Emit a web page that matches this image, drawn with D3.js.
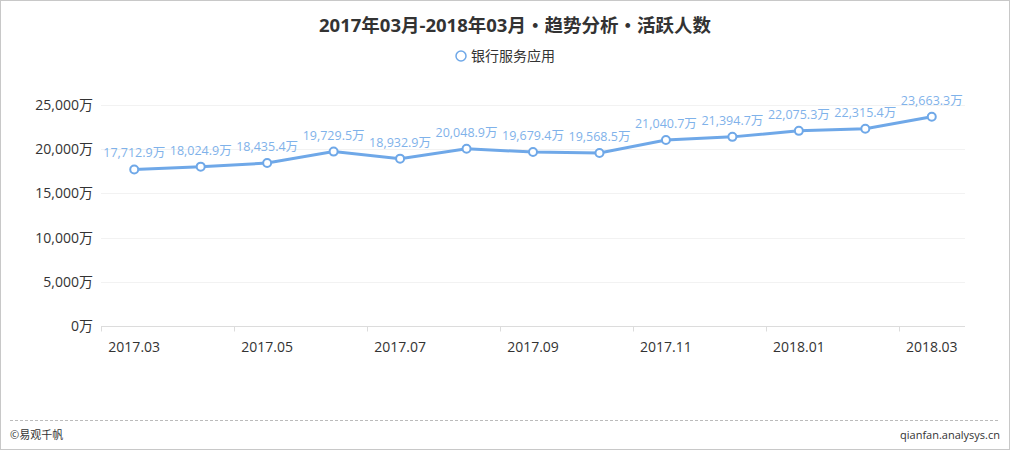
<!DOCTYPE html>
<html>
<head>
<meta charset="utf-8">
<script src="https://cdn.jsdelivr.net/npm/d3@7"></script>
<style>
  body { margin: 0; background: #fff; }
  svg { display: block; font-family: "Open Sans", "Noto Sans CJK SC", sans-serif; }
</style>
</head>
<body>
<div id="chart"></div>
<script>
var width = 1010;
var height = 450;

var months = ["2017.03","2017.04","2017.05","2017.06","2017.07","2017.08","2017.09",
    "2017.10","2017.11","2017.12","2018.01","2018.02","2018.03"];
var activeUsers = [17712.9, 18024.9, 18435.4, 19729.5, 18932.9, 20048.9, 19679.4,
    19568.5, 21040.7, 21394.7, 22075.3, 22315.4, 23663.3];
var yTicks = [0, 5000, 10000, 15000, 20000, 25000];

var title = "2017年03月-2018年03月・趋势分析・活跃人数";
var seriesName = "银行服务应用";

var lineColor = "#6fa8e8";
var labelColor = "#7fb2ea";
var fmt = d3.format(",");

var margin = {top: 105, right: 45, bottom: 124, left: 101};

const svg = d3.select("#chart").append("svg")
    .attr("width", width)
    .attr("height", height);

// outer frame
svg.append("rect")
    .attr("x", 0.5).attr("y", 0.5)
    .attr("width", width - 1).attr("height", height - 1)
    .attr("fill", "#fff")
    .attr("stroke", "#c8c8c8");

const x = d3.scaleBand()
    .domain(months)
    .range([margin.left, width - margin.right]);
const y = d3.scaleLinear()
    .domain([0, 25000])
    .range([height - margin.bottom, margin.top]);

// title
svg.append("text")
    .attr("x", width / 2 + 10).attr("y", 32)
    .attr("text-anchor", "middle")
    .attr("font-size", 18.5)
    .attr("font-weight", "bold")
    .attr("fill", "#333")
    .text(title);

// legend
svg.append("circle")
    .attr("cx", 461).attr("cy", 56).attr("r", 5)
    .attr("fill", "#fff")
    .attr("stroke", lineColor)
    .attr("stroke-width", 1.5);
svg.append("text")
    .attr("x", 471).attr("y", 61)
    .attr("font-size", 14)
    .attr("fill", "#333")
    .text(seriesName);

// grid
svg.append("g")
    .selectAll("line")
    .data(yTicks.slice(1))
    .join("line")
    .attr("x1", margin.left).attr("x2", width - margin.right)
    .attr("y1", d => Math.round(y(d)) + 0.5)
    .attr("y2", d => Math.round(y(d)) + 0.5)
    .attr("stroke", "#f2f2f2");

// y axis labels
svg.append("g")
    .selectAll("text")
    .data(yTicks)
    .join("text")
    .attr("x", 93)
    .attr("y", d => y(d) + 5)
    .attr("text-anchor", "end")
    .attr("font-size", 14)
    .attr("fill", "#333")
    .text(d => fmt(d) + "万");

// x axis
var xAxisY = Math.round(y(0)) + 0.5;
svg.append("line")
    .attr("x1", margin.left).attr("x2", width - margin.right)
    .attr("y1", xAxisY).attr("y2", xAxisY)
    .attr("stroke", "#dcdcdc");

var tickMonths = months.filter((d, i) => i % 2 === 0);
svg.append("g")
    .selectAll("line")
    .data(tickMonths)
    .join("line")
    .attr("x1", d => Math.round(x(d)) + 0.5)
    .attr("x2", d => Math.round(x(d)) + 0.5)
    .attr("y1", xAxisY).attr("y2", xAxisY + 5)
    .attr("stroke", "#dcdcdc");

svg.append("g")
    .selectAll("text")
    .data(tickMonths)
    .join("text")
    .attr("x", d => x(d) + x.bandwidth() / 2)
    .attr("y", xAxisY + 25)
    .attr("text-anchor", "middle")
    .attr("font-size", 14)
    .attr("fill", "#333")
    .text(d => d);

// line
var pts = months.map((m, i) => ({m: m, v: activeUsers[i]}));
var line = d3.line()
    .x(d => x(d.m) + x.bandwidth() / 2)
    .y(d => y(d.v));

svg.append("path")
    .datum(pts)
    .attr("d", line)
    .attr("fill", "none")
    .attr("stroke", lineColor)
    .attr("stroke-width", 3);

svg.append("g")
    .selectAll("circle")
    .data(pts)
    .join("circle")
    .attr("cx", d => x(d.m) + x.bandwidth() / 2)
    .attr("cy", d => y(d.v))
    .attr("r", 4)
    .attr("fill", "#fff")
    .attr("stroke", lineColor)
    .attr("stroke-width", 2);

svg.append("g")
    .selectAll("text")
    .data(pts)
    .join("text")
    .attr("x", d => x(d.m) + x.bandwidth() / 2)
    .attr("y", d => y(d.v) - 12)
    .attr("text-anchor", "middle")
    .attr("font-size", 12.5)
    .attr("fill", labelColor)
    .text(d => fmt(d.v) + "万");

// footer
svg.append("line")
    .attr("x1", 10).attr("x2", 1000)
    .attr("y1", 420.5).attr("y2", 420.5)
    .attr("stroke", "#bbb")
    .attr("stroke-dasharray", "3,2");
svg.append("text")
    .attr("x", 10).attr("y", 439)
    .attr("font-size", 11)
    .attr("fill", "#333")
    .text("©易观千帆");
svg.append("text")
    .attr("x", 1000).attr("y", 439)
    .attr("text-anchor", "end")
    .attr("font-size", 11)
    .attr("fill", "#333")
    .text("qianfan.analysys.cn");
</script>
</body>
</html>
